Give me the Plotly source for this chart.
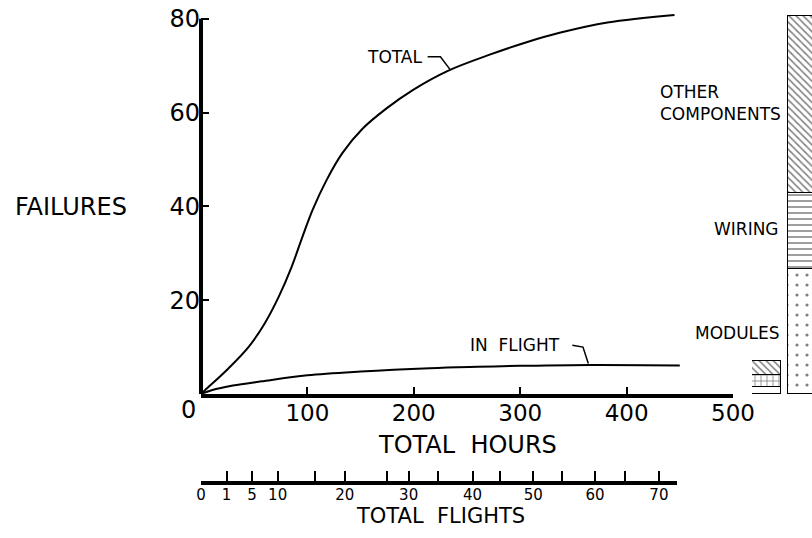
import plotly.graph_objects as go

# ---------------- data ----------------
total_hours = [0, 4, 26, 45, 60, 73, 85, 95, 105, 118, 133, 152, 175, 199, 232, 272, 306, 337, 382, 445]
total_fail = [0, 0.85, 5.5, 10.1, 15.1, 20.7, 27.0, 33.3, 39.3, 45.6, 51.4, 56.6, 61.0, 64.8, 68.9, 72.4, 75.0, 77.0, 79.2, 80.8]

flight_hours = [0, 10, 30, 57, 100, 150, 215, 260, 300, 366, 450]
flight_fail = [0, 0.8, 1.8, 2.7, 4.0, 4.8, 5.5, 5.8, 6.0, 6.2, 6.1]

hour_ticks = [100, 200, 300, 400, 500]
fail_ticks = [20, 40, 60, 80]

# TOTAL FLIGHTS scale: flight count labels and where they fall on the hours scale
flight_tick_labels = ["0", "1", "5", "10", "", "20", "", "30", "", "40", "", "50", "", "60", "", "70"]
flight_tick_hours = [0, 24, 48, 72, 107, 135, 175, 195, 223, 255, 281, 312, 339, 370, 398, 430]

# failure breakdown bars: in-flight and total
bar_groups = ["IN FLIGHT", "TOTAL"]
modules = [1.5, 26.6]
wiring = [2.5, 16.2]
other = [3.0, 37.8]

FONT = "DejaVu Sans"
W, H = 812, 538


def px(x):
    return x / W


def py(y):
    return 1 - y / H


fig = go.Figure()

fig.add_trace(go.Scatter(x=total_hours, y=total_fail, mode="lines", line=dict(color="black", width=2, shape="spline"),
                         xaxis="x", yaxis="y", showlegend=False, hoverinfo="skip"))
fig.add_trace(go.Scatter(x=flight_hours, y=flight_fail, mode="lines", line=dict(color="black", width=2, shape="spline"),
                         xaxis="x", yaxis="y", showlegend=False, hoverinfo="skip"))

# invisible trace to realise the flights axis
fig.add_trace(go.Scatter(x=[None], y=[None], xaxis="x3", yaxis="y", showlegend=False, hoverinfo="skip"))

bar_widths = [0.784, 0.84]
fig.add_trace(go.Bar(x=bar_groups, y=modules, width=bar_widths, xaxis="x2", yaxis="y",
                     marker=dict(color="white", line=dict(color="black", width=1.5),
                                 pattern=dict(shape=".", fgcolor="black", bgcolor="white", size=10, solidity=0.08)),
                     showlegend=False, hoverinfo="skip"))
fig.add_trace(go.Bar(x=bar_groups, y=wiring, width=bar_widths, xaxis="x2", yaxis="y",
                     marker=dict(color="white", line=dict(color="black", width=1.5),
                                 pattern=dict(shape=["+", "-"], fgcolor="black", bgcolor="white", size=6, solidity=0.25)),
                     showlegend=False, hoverinfo="skip"))
fig.add_trace(go.Bar(x=bar_groups, y=other, width=bar_widths, xaxis="x2", yaxis="y",
                     marker=dict(color="white", line=dict(color="black", width=1.5),
                                 pattern=dict(shape="\\", fgcolor="black", bgcolor="white", size=5, solidity=0.3)),
                     showlegend=False, hoverinfo="skip"))

tickfont = dict(family=FONT, size=24, color="black")

fig.update_layout(
    width=W, height=H,
    margin=dict(l=0, r=0, t=0, b=0, pad=0, autoexpand=False),
    paper_bgcolor="white", plot_bgcolor="rgba(0,0,0,0)",
    barmode="stack", bargap=0,
    font=dict(family=FONT, color="black"),
    xaxis=dict(domain=[px(201), px(733)], range=[0, 500], anchor="y", automargin=False,
               showline=True, linewidth=4, linecolor="black",
               tickvals=hour_ticks, ticks="inside", ticklen=7, tickwidth=2, tickcolor="black",
               ticklabelstandoff=-5,
               tickfont=dict(family=FONT, size=23, color="black"),
               showgrid=False, zeroline=False, fixedrange=True),
    xaxis2=dict(domain=[px(752), 1.0], range=[-0.392, 1.23], anchor="y", type="category", automargin=False,
                visible=False, fixedrange=True),
    xaxis3=dict(domain=[px(201), px(677)], range=[0, 447], anchor="free", position=py(483), automargin=False,
                showline=True, linewidth=4, linecolor="black",
                tickvals=flight_tick_hours, ticktext=flight_tick_labels,
                ticks="inside", ticklen=10, tickwidth=2, tickcolor="black",
                ticklabelstandoff=-3,
                tickfont=dict(family=FONT, size=15, color="black"),
                showgrid=False, zeroline=False, fixedrange=True),
    yaxis=dict(domain=[py(394), 1.0], range=[0, 84], anchor="x", automargin=False,
               showline=False, tickvals=fail_ticks, ticks="inside", ticklen=8, tickwidth=2, tickcolor="black",
               tickfont=tickfont, showgrid=False, zeroline=False, fixedrange=True),
)

# y axis line stopping at 80
fig.add_shape(type="line", xref="paper", yref="y", x0=px(201), x1=px(201), y0=0, y1=80,
              line=dict(color="black", width=4))

# leader lines
fig.add_shape(type="path", xref="x", yref="y", path="M 213 71.9 L 225 71.9 L 234 69.2",
              line=dict(color="black", width=1.5))
fig.add_shape(type="path", xref="x", yref="y", path="M 349 10.4 L 359 10.0 L 364 6.5",
              line=dict(color="black", width=1.5))

ann = []


def text(x, y, s, size, xanchor="center", align="center"):
    ann.append(dict(x=px(x), y=py(y), xref="paper", yref="paper", text=s, showarrow=False,
                    xanchor=xanchor, yanchor="middle", align=align,
                    font=dict(family=FONT, size=size, color="black")))


text(188, 410, "0", 24)
text(71, 207, "FAILURES", 24)
text(467, 445, "TOTAL  HOURS", 24)
text(440, 516, "TOTAL  FLIGHTS", 21)
text(394, 57, "TOTAL", 17)
text(515, 345, "IN  FLIGHT", 17)
text(783, 103, "OTHER<br>COMPONENTS", 17, xanchor="right", align="left")
text(781, 229, "WIRING", 17, xanchor="right")
text(782, 333, "MODULES", 17, xanchor="right")

fig.update_layout(annotations=ann)

fig.write_html("out.html", config=dict(displayModeBar=False),
               post_script="document.body.style.margin='0';document.body.style.overflow='hidden';")
